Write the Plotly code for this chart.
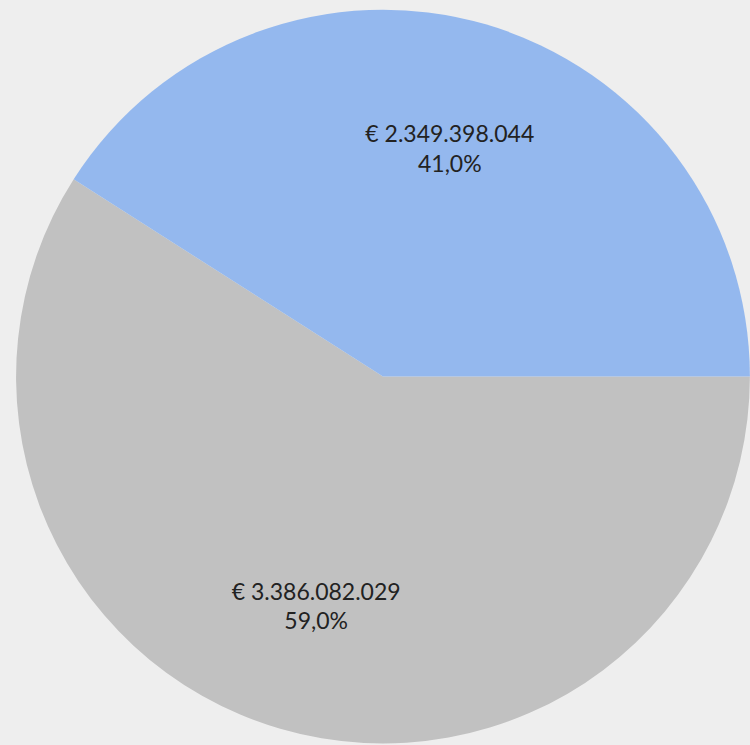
import plotly.graph_objects as go

labels = ["Gray", "Blue"]
values = [3386082029, 2349398044]
colors = ["#c1c1c1", "#94b8ee"]

dom = dict(x=[0.0213, 1.0], y=[0.002, 0.987])

fig = go.Figure()
fig.add_trace(go.Pie(
    labels=labels,
    values=values,
    sort=False,
    direction="clockwise",
    rotation=90,
    marker=dict(colors=colors, line=dict(width=0)),
    textinfo="none",
    hoverinfo="none",
    domain=dom,
))
fig.add_trace(go.Pie(
    labels=labels,
    values=values,
    sort=False,
    direction="clockwise",
    rotation=90,
    hole=0.3,
    marker=dict(colors=["rgba(0,0,0,0)"] * 2, line=dict(width=0)),
    texttemplate="€ %{value:,.0f}<br>%{percent:.1%}",
    textposition="inside",
    insidetextorientation="horizontal",
    textfont=dict(family="Lato", size=23, color="#222222"),
    hoverinfo="none",
    domain=dom,
))
fig.update_layout(
    width=750, height=745,
    margin=dict(l=0, r=0, t=0, b=0),
    paper_bgcolor="#eeeeee",
    plot_bgcolor="#eeeeee",
    showlegend=False,
    separators=",.",
)
fig.write_html(
    "out.html",
    config={"displayModeBar": False},
    post_script="document.body.style.margin='0';document.body.style.background='#eeeeee';",
)
